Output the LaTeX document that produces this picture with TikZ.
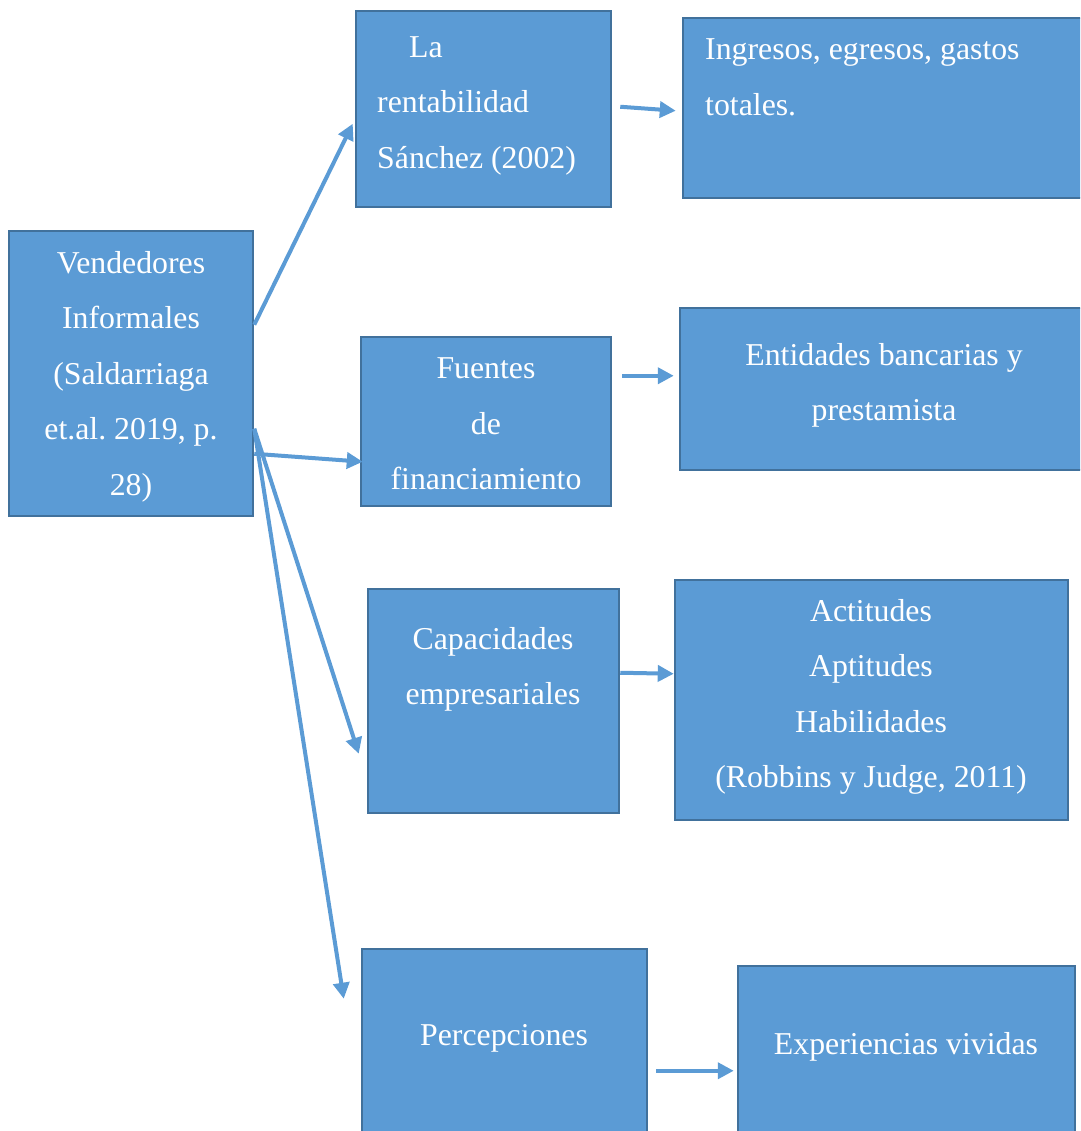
\documentclass[tikz,border=0pt]{standalone}
\usepackage{fontspec}
\setmainfont{Liberation Serif}
\usetikzlibrary{arrows.meta,calc}
\definecolor{boxfill}{HTML}{5B9BD5}
\definecolor{boxline}{HTML}{41719C}
\frenchspacing
\begin{document}
\begin{tikzpicture}[x=1pt,y=-1pt,
  box/.style={draw=boxline,fill=boxfill,line width=2.5pt,inner sep=0pt},
  txt/.style={text=white,font=\fontsize{31.8}{55.5}\selectfont,inner sep=0pt,align=center},
  ltxt/.style={txt,align=left,anchor=west},
  conn/.style={draw=boxfill,line width=4pt,-{Triangle[length=16pt,width=16pt]}}]
\useasboundingbox (0,0) rectangle (1080,1131);
\clip (0,0) rectangle (1080,1131);
% boxes
\node[box,minimum width=244pt,minimum height=285pt] (A) at (131,373.5) {};
\node[box,minimum width=255pt,minimum height=196pt] (B) at (483.5,109) {};
\node[box,minimum width=407pt,minimum height=180pt] (C) at (886.5,108) {};
\node[box,minimum width=250pt,minimum height=169pt] (D) at (486,421.5) {};
\node[box,minimum width=410pt,minimum height=162pt] (E) at (885,389) {};
\node[box,minimum width=251pt,minimum height=224pt] (F) at (493.5,701) {};
\node[box,minimum width=393pt,minimum height=240pt] (G) at (871.5,700) {};
\node[box,minimum width=285pt,minimum height=191pt] (H) at (504.5,1044.5) {};
\node[box,minimum width=337pt,minimum height=174pt] (I) at (906.5,1053) {};
% texts
\node[txt] (At) at (131,373) {\strut Vendedores\\\strut Informales\\\strut (Saldarriaga\\\strut et.al. 2019, p.\\\strut 28)};
\node[ltxt] (Bt) at (377,101.7) {\strut\hspace{32pt}La\\\strut rentabilidad\\\strut Sánchez (2002)};
\node[ltxt] (Ct) at (705,76.5) {\strut Ingresos, egresos, gastos\\\strut totales.};
\node[txt] (Dt) at (486,423) {\strut Fuentes\\\strut de\\\strut financiamiento};
\node[txt] (Et) at (884,382) {\strut Entidades bancarias y\\\strut prestamista};
\node[txt] (Ft) at (493,666) {\strut Capacidades\\\strut empresariales};
\node[txt] (Gt) at (871,693.5) {\strut Actitudes\\\strut Aptitudes\\\strut Habilidades\\\strut (Robbins y Judge, 2011)};
\node[txt] (Ht) at (504,1034) {\strut Percepciones};
\node[txt] (It) at (906,1043) {\strut Experiencias vividas};
% connectors
\draw[conn] ($(A.north east)+(0,95)$) -- ($(B.north west)+(-2,114)$);
\draw[conn] ($(A.north east)+(0,224)$) -- ($(D.north west)+(3,126)$);
\draw[conn] ($(A.north east)+(0,199)$) -- ($(F.north west)+(-8,166)$);
\draw[conn] ($(A.north east)+(0,199)$) -- ($(H.north west)+(-17,51)$);
\draw[conn] ($(B.north east)+(8,97)$) -- ($(C.north west)+(-6,94)$);
\draw[conn] ($(D.north east)+(10,40)$) -- ($(E.north west)+(-5,69)$);
\draw[conn] ($(F.north east)+(0,85)$) -- ($(G.north west)+(0,95)$);
\draw[conn] ($(H.north east)+(8,123)$) -- ($(I.north west)+(-3,106)$);
\end{tikzpicture}
\end{document}
